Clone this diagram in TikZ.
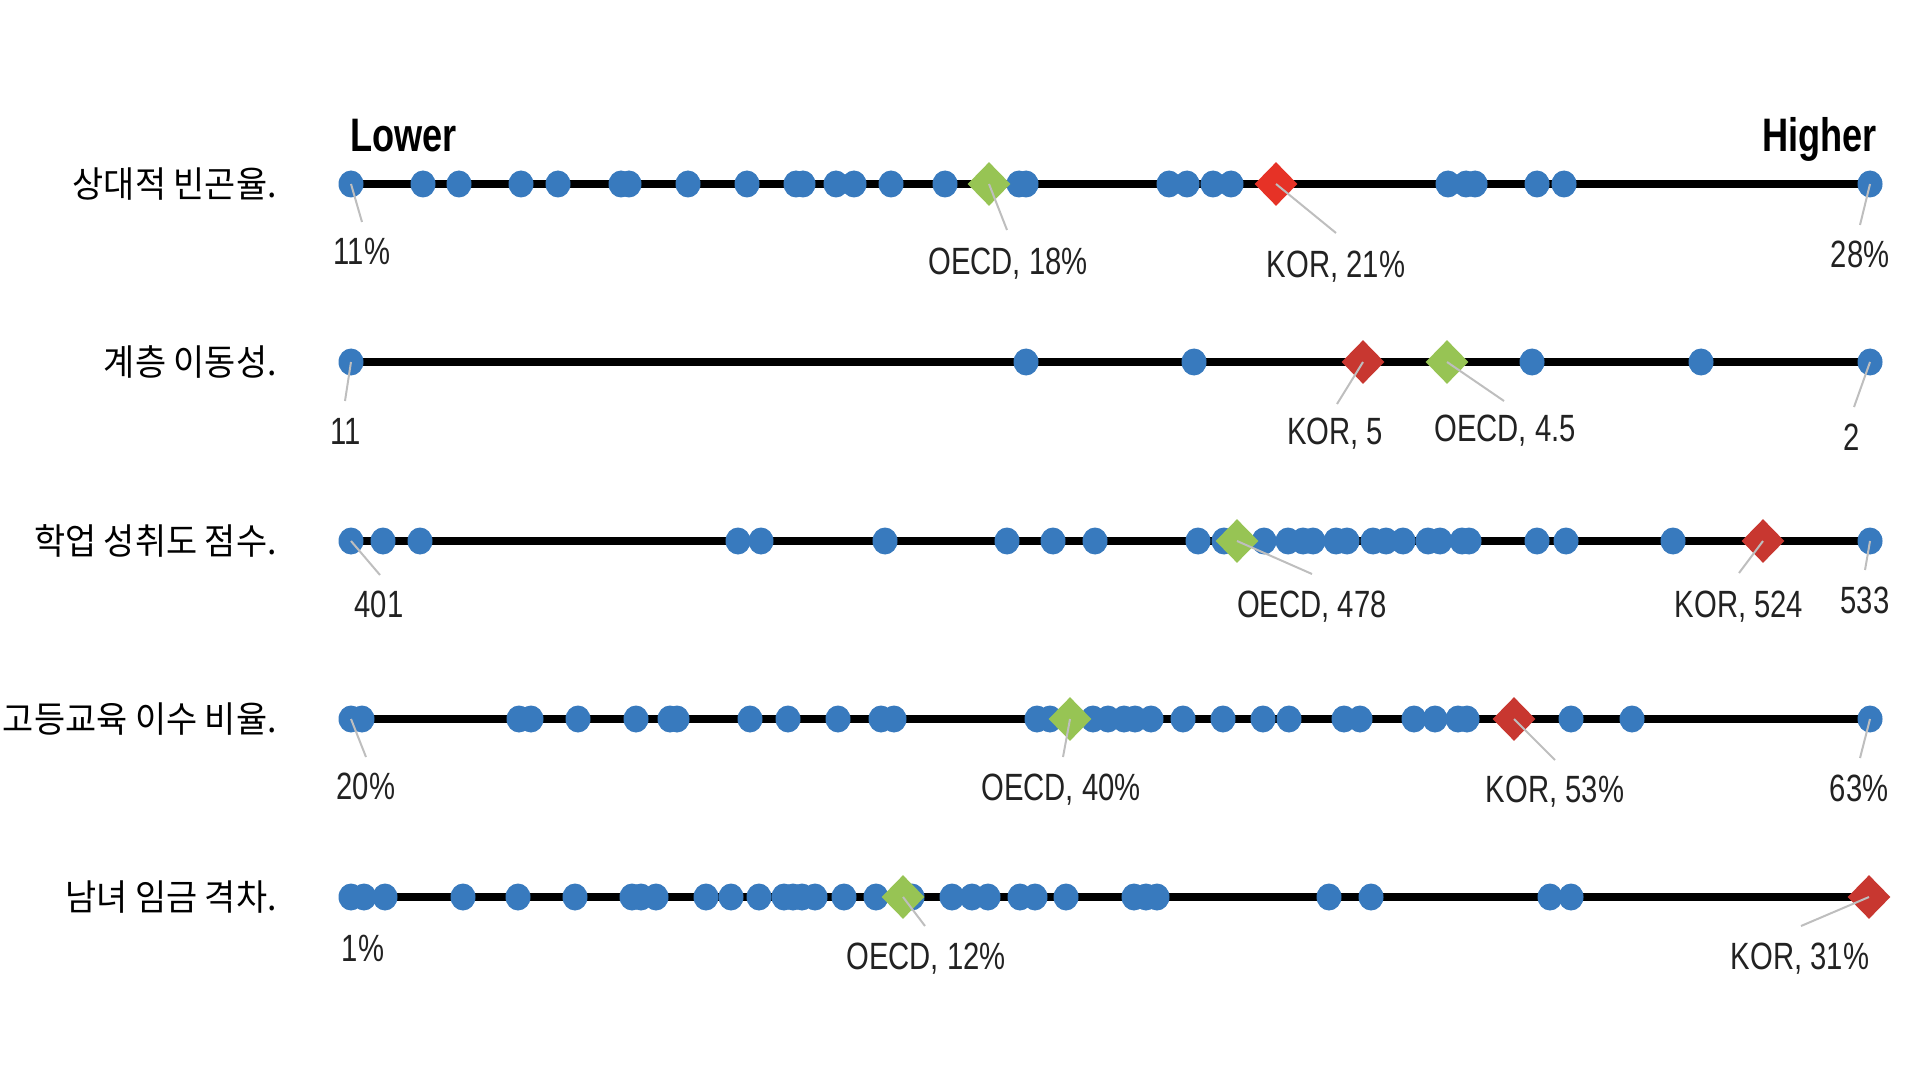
\documentclass[tikz,border=0pt]{standalone}
\usepackage{fontspec}
\setmainfont{Liberation Sans}[FakeStretch=0.77]
\newfontfamily\krfont{Noto Sans CJK KR}[FakeStretch=0.94]
\usepackage{xcolor}
\usepackage{tikz}
\usetikzlibrary{shapes.geometric}
\definecolor{dotblue}{RGB}{56,122,190}
\definecolor{oecdgreen}{RGB}{151,196,84}
\definecolor{korred}{RGB}{230,50,38}
\definecolor{korredd}{RGB}{200,55,48}
\definecolor{leadgray}{RGB}{190,190,190}
\definecolor{textgray}{RGB}{34,34,34}

\begin{document}
\begin{tikzpicture}[x=0.5pt,y=-0.5pt,
    dot/.style={ellipse,fill=dotblue,minimum width=12.5pt,minimum height=13.5pt,inner sep=0pt},
    oecd/.style={diamond,fill=oecdgreen,minimum width=21.5pt,minimum height=22pt,inner sep=0pt},
    kor/.style={diamond,fill=korredd,minimum width=21.5pt,minimum height=22pt,inner sep=0pt},
    axisline/.style={line width=4pt,black},
    leader/.style={line width=1pt,leadgray},
    val/.style={font=\fontsize{19}{22}\selectfont,text=textgray,anchor=base,inner sep=0pt},
    rowname/.style={font=\krfont\fontsize{18}{22}\selectfont,text=black,anchor=east,inner sep=0pt},
    ends/.style={font=\bfseries\fontsize{23.5}{28}\selectfont,inner sep=0pt}]
    \useasboundingbox (0,0) rectangle (1920,1080);

    % Relative poverty
    \node[rowname] (n1) at (277,184) {상대적 빈곤율.};
    \node[ends,anchor=base west] (lower) at (350,152) {Lower};
    \node[ends,anchor=base east] (higher) at (1877,152) {Higher};
    \coordinate (l1) at (351,184);
    \coordinate (r1) at (1870,184);
    \draw[axisline] (l1) -- (r1);
    \foreach \x [count=\i] in {423,459,521,558,621,629,688,747,796,803,836,854,891,945,1019,1026,1169,1187,1213,1231,1273,1448,1466,1475,1537,1564}
        \node[dot] (a\i) at (\x,184) {};
    \node[dot] (min1) at (351,184) {};
    \node[dot] (max1) at (1870,184) {};
    \node[oecd] (o1) at (989,184) {};
    \node[kor,fill=korred] (k1) at (1276,184) {};
    \node[val] (vmin1) at (362,265) {11\%};
    \node[val] (vo1) at (1008,275) {OECD, 18\%};
    \node[val] (vk1) at (1336,278) {KOR, 21\%};
    \node[val] (vmax1) at (1860,268) {28\%};
    \coordinate (emin1) at (362,222);
    \coordinate (eo1) at (1007,230);
    \coordinate (ek1) at (1336,233);
    \coordinate (emax1) at (1860,225);
    \draw[leader] (min1.center) -- (emin1);
    \draw[leader] (o1.center) -- (eo1);
    \draw[leader] (k1.center) -- (ek1);
    \draw[leader] (max1.center) -- (emax1);

    % Social mobility
    \node[rowname] (n2) at (277,362) {계층 이동성.};
    \coordinate (l2) at (351,362);
    \coordinate (r2) at (1870,362);
    \draw[axisline] (l2) -- (r2);
    \foreach \x [count=\i] in {1026,1194,1532,1701}
        \node[dot] (b\i) at (\x,362) {};
    \node[dot] (min2) at (351,362) {};
    \node[dot] (max2) at (1870,362) {};
    \node[kor] (k2) at (1363,362) {};
    \node[oecd] (o2) at (1447,362) {};
    \node[val] (vmin2) at (346,444) {11};
    \node[val] (vk2) at (1335,444) {KOR, 5};
    \node[val] (vo2) at (1505,441) {OECD, 4.5};
    \node[val] (vmax2) at (1852,450) {2};
    \coordinate (emin2) at (345,401);
    \coordinate (ek2) at (1337,404);
    \coordinate (eo2) at (1504,401);
    \coordinate (emax2) at (1854,407);
    \draw[leader] (min2.center) -- (emin2);
    \draw[leader] (k2.center) -- (ek2);
    \draw[leader] (o2.center) -- (eo2);
    \draw[leader] (max2.center) -- (emax2);

    % Academic scores
    \node[rowname] (n3) at (277,541) {학업 성취도 점수.};
    \coordinate (l3) at (351,541);
    \coordinate (r3) at (1870,541);
    \draw[axisline] (l3) -- (r3);
    \foreach \x [count=\i] in {383,420,738,761,885,1007,1053,1095,1198,1224,1264,1288,1303,1313,1336,1347,1373,1386,1403,1428,1440,1462,1469,1537,1566,1673}
        \node[dot] (c\i) at (\x,541) {};
    \node[dot] (min3) at (351,541) {};
    \node[dot] (max3) at (1870,541) {};
    \node[oecd] (o3) at (1237,541) {};
    \node[kor] (k3) at (1763,541) {};
    \node[val] (vmin3) at (379,617) {401};
    \node[val] (vo3) at (1312,617) {OECD, 478};
    \node[val] (vk3) at (1739,617) {KOR, 524};
    \node[val] (vmax3) at (1865,613) {533};
    \coordinate (emin3) at (380,575);
    \coordinate (eo3) at (1312,574);
    \coordinate (ek3) at (1739,573);
    \coordinate (emax3) at (1865,570);
    \draw[leader] (min3.center) -- (emin3);
    \draw[leader] (o3.center) -- (eo3);
    \draw[leader] (k3.center) -- (ek3);
    \draw[leader] (max3.center) -- (emax3);

    % Tertiary education
    \node[rowname] (n4) at (277,719) {고등교육 이수 비율.};
    \coordinate (l4) at (351,719);
    \coordinate (r4) at (1870,719);
    \draw[axisline] (l4) -- (r4);
    \foreach \x [count=\i] in {362,519,531,578,636,670,677,750,788,838,881,894,1037,1050,1093,1108,1124,1135,1151,1183,1223,1263,1289,1344,1360,1414,1435,1458,1467,1571,1632}
        \node[dot] (d\i) at (\x,719) {};
    \node[dot] (min4) at (351,719) {};
    \node[dot] (max4) at (1870,719) {};
    \node[oecd] (o4) at (1070,719) {};
    \node[kor] (k4) at (1514,719) {};
    \node[val] (vmin4) at (366,799) {20\%};
    \node[val] (vo4) at (1061,800) {OECD, 40\%};
    \node[val] (vk4) at (1555,802) {KOR, 53\%};
    \node[val] (vmax4) at (1859,801) {63\%};
    \coordinate (emin4) at (366,757);
    \coordinate (eo4) at (1063,757);
    \coordinate (ek4) at (1555,760);
    \coordinate (emax4) at (1860,758);
    \draw[leader] (min4.center) -- (emin4);
    \draw[leader] (o4.center) -- (eo4);
    \draw[leader] (k4.center) -- (ek4);
    \draw[leader] (max4.center) -- (emax4);

    % Gender wage gap
    \node[rowname] (n5) at (277,897) {남녀 임금 격차.};
    \coordinate (l5) at (351,897);
    \coordinate (r5) at (1870,897);
    \draw[axisline] (l5) -- (r5);
    \foreach \x [count=\i] in {364,385,463,518,575,632,641,656,706,731,759,784,793,802,815,844,876,912,952,972,988,1020,1035,1066,1134,1146,1157,1329,1371,1550,1571}
        \node[dot] (e\i) at (\x,897) {};
    \node[dot] (min5) at (351,897) {};
    \node[oecd] (o5) at (903,897) {};
    \node[kor] (k5) at (1869,897) {};
    \node[val] (vmin5) at (363,961) {1\%};
    \node[val] (vo5) at (926,969) {OECD, 12\%};
    \node[val] (vk5) at (1800,969) {KOR, 31\%};
    \coordinate (eo5) at (925,926);
    \coordinate (ek5) at (1801,926);
    \draw[leader] (o5.center) -- (eo5);
    \draw[leader] (k5.center) -- (ek5);
\end{tikzpicture}
\end{document}
